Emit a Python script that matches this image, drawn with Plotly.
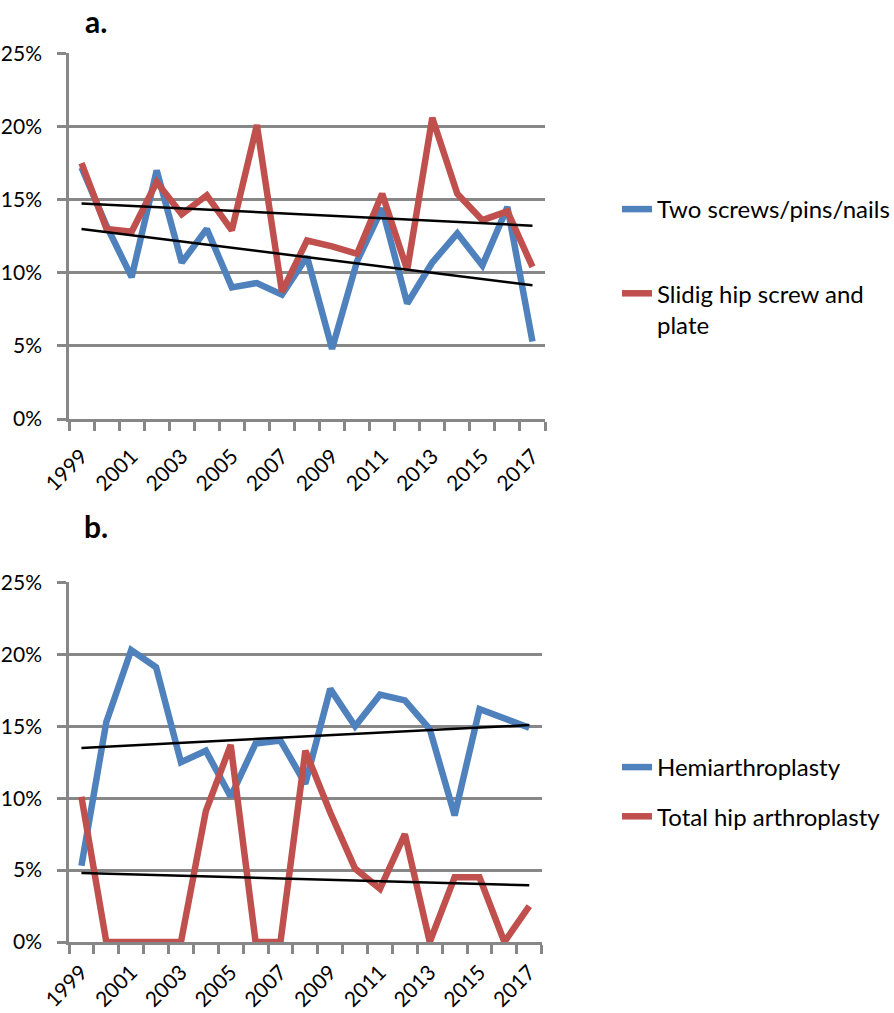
import numpy as np
import plotly.graph_objects as go

years = [str(y) for y in range(1999, 2018)]
tick_text = [y if int(y) % 2 == 1 else "" for y in years]

# Panel a (percent)
two_screws = [17.2, 13.2, 9.7, 17.0, 10.7, 13.0, 9.0, 9.3, 8.5, 11.1,
              4.8, 10.8, 14.4, 7.9, 10.7, 12.7, 10.5, 14.5, 5.3]
sliding_hip = [17.5, 13.0, 12.8, 16.2, 14.0, 15.3, 12.9, 20.1, 8.7, 12.2,
               11.8, 11.3, 15.4, 10.2, 20.6, 15.4, 13.6, 14.2, 10.4]
# Panel b (percent)
hemi = [5.3, 15.3, 20.3, 19.1, 12.5, 13.3, 10.1, 13.8, 14.0, 11.0,
        17.6, 15.0, 17.2, 16.8, 14.8, 8.8, 16.2, 15.5, 14.9]
total_hip = [10.1, 0, 0, 0, 0, 9.1, 13.7, 0, 0, 13.3,
             9.0, 5.1, 3.7, 7.5, 0, 4.5, 4.5, 0, 2.5]

y_ticks = [0, 5, 10, 15, 20, 25]
y_tick_text = ["0%", "5%", "10%", "15%", "20%", "25%"]

BLUE = "#4F81BD"
RED = "#C0504D"
GRID = "#878787"
FONT = "Lato"


def trend(vals):
    x = np.arange(len(vals))
    k, b = np.polyfit(x, vals, 1)
    return list(k * x + b)


fig = go.Figure()

# Panel a
fig.add_trace(go.Scatter(x=years, y=two_screws, mode="lines", name="Two screws/pins/nails",
                         line=dict(color=BLUE, width=6.5), xaxis="x", yaxis="y",
                         legend="legend", legendgroup="a1"))
fig.add_trace(go.Scatter(x=years, y=sliding_hip, mode="lines", name="Slidig hip screw and<br>plate",
                         line=dict(color=RED, width=6.5), xaxis="x", yaxis="y",
                         legend="legend", legendgroup="a2"))
fig.add_trace(go.Scatter(x=years, y=trend(two_screws), mode="lines", showlegend=False,
                         line=dict(color="black", width=2.5), xaxis="x", yaxis="y"))
fig.add_trace(go.Scatter(x=years, y=trend(sliding_hip), mode="lines", showlegend=False,
                         line=dict(color="black", width=2.5), xaxis="x", yaxis="y"))

# Panel b
fig.add_trace(go.Scatter(x=years, y=hemi, mode="lines", name="Hemiarthroplasty",
                         line=dict(color=BLUE, width=6.5), xaxis="x2", yaxis="y2",
                         legend="legend2", legendgroup="b1"))
fig.add_trace(go.Scatter(x=years, y=total_hip, mode="lines", name="Total hip arthroplasty",
                         line=dict(color=RED, width=6.5), xaxis="x2", yaxis="y2",
                         legend="legend2", legendgroup="b2"))
fig.add_trace(go.Scatter(x=years, y=trend(hemi), mode="lines", showlegend=False,
                         line=dict(color="black", width=2.5), xaxis="x2", yaxis="y2"))
fig.add_trace(go.Scatter(x=years, y=trend(total_hip), mode="lines", showlegend=False,
                         line=dict(color="black", width=2.5), xaxis="x2", yaxis="y2"))

xcommon = dict(type="category", tickmode="array", tickvals=years, ticktext=tick_text,
               tickson="boundaries", ticks="outside", ticklen=9, tickwidth=2.5, tickcolor=GRID,
               showline=True, linecolor=GRID, linewidth=2.5, showgrid=False, zeroline=False,
               tickangle=-45,
               tickfont=dict(family=FONT, size=21, color="black"),
               range=[-0.5, 18.5], fixedrange=True, automargin=False)
ycommon = dict(range=[0, 25.03], tickmode="array", tickvals=y_ticks, ticktext=y_tick_text,
               showgrid=True, gridcolor=GRID, gridwidth=2.5, zeroline=False,
               showline=True, linecolor=GRID, linewidth=2.5,
               ticks="outside", ticklen=9, tickwidth=2.5, tickcolor=GRID,
               ticklabelstandoff=11, automargin=False,
               tickfont=dict(family=FONT, size=21, color="black"), fixedrange=True)

# viewport pixels (page body margin removed below)
W, H = 894, 1013
PL, PR, PT, PB = 69, 545, 53, 942  # plot area
ph = PB - PT
pw = PR - PL


def py(pix):
    return (PB - pix) / ph


def px(pix):
    return (pix - PL) / pw


fig.update_layout(
    width=W, height=H,
    margin=dict(l=PL, r=W - PR, t=PT, b=H - PB, autoexpand=False),
    paper_bgcolor="white", plot_bgcolor="white",
    font=dict(family=FONT, size=22, color="black"),
    xaxis=dict(domain=[0, 1], anchor="y", ticklabelstandoff=14, **xcommon),
    yaxis=dict(domain=[py(419), 1], anchor="x", **ycommon),
    xaxis2=dict(domain=[0, px(541.7)], anchor="y2", ticklabelstandoff=7, **xcommon),
    yaxis2=dict(domain=[0, py(582)], anchor="x2", **ycommon),
    legend=dict(x=px(617), y=py(187), xanchor="left", yanchor="top", tracegroupgap=50,
                valign="top", font=dict(family=FONT, size=24, color="black"),
                bgcolor="rgba(0,0,0,0)"),
    legend2=dict(x=px(617), y=py(745), xanchor="left", yanchor="top", tracegroupgap=15,
                 valign="top", font=dict(family=FONT, size=24, color="black"),
                 bgcolor="rgba(0,0,0,0)"),
    annotations=[
        dict(text="<b>a.</b>", x=px(96), y=py(0.5), xref="paper", yref="paper",
             xanchor="center", yanchor="top",
             showarrow=False, font=dict(family=FONT, size=30, color="black")),
        dict(text="<b>b.</b>", x=px(96), y=py(526), xref="paper", yref="paper",
             xanchor="center", yanchor="middle",
             showarrow=False, font=dict(family=FONT, size=30, color="black")),
    ],
)

fig.write_html("out.html", config={"displayModeBar": False},
               post_script="document.body.style.margin='0px';")
